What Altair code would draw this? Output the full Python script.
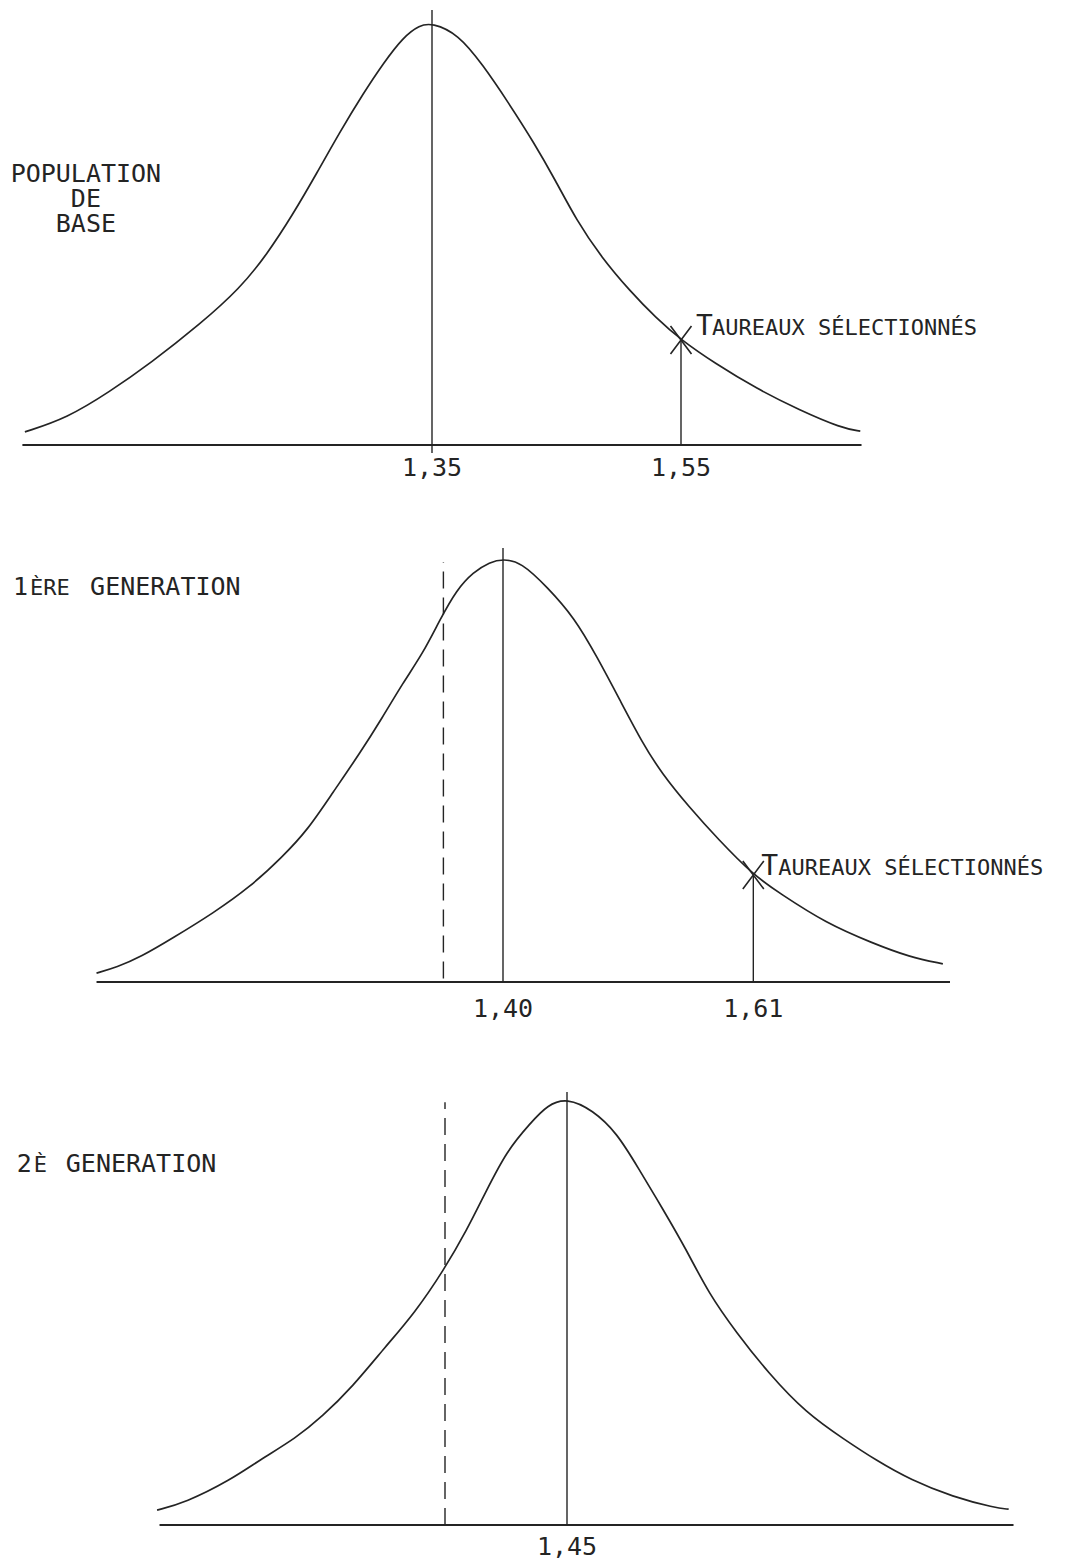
import altair as alt
import pandas as pd

INK = "#242424"
MONO = "DejaVu Sans Mono"

# ---------------- values ----------------
# Population de base
base_t = [1.023, 1.057, 1.091, 1.124, 1.164, 1.196, 1.217, 1.238, 1.258, 1.276,
          1.295, 1.311, 1.327, 1.340, 1.350, 1.371, 1.391, 1.411, 1.432, 1.449,
          1.466, 1.486, 1.509, 1.530, 1.550, 1.577, 1.611, 1.645, 1.679, 1.694]
base_f = [3.1, 6.4, 12.6, 19.4, 28.7, 37.2, 45.0, 54.5, 64.7, 74.2,
          83.4, 90.5, 96.7, 99.5, 100.0, 97.4, 90.0, 81.3, 71.6, 62.8,
          53.3, 44.5, 36.5, 30.1, 24.9, 19.4, 13.3, 8.3, 4.0, 3.3]
base_mean = 1.35
base_mean_span = [-1.9, 103.1]
base_cut = 1.55
base_cut_f = 24.9
base_axis = [1.021, 1.695]
base_ticks = [1.35, 1.55]
base_tick_labels = ["1,35", "1,55"]

# 1ère génération
gen1_t = [1.059, 1.076, 1.096, 1.123, 1.157, 1.188, 1.215, 1.236, 1.257, 1.280,
          1.299, 1.316, 1.333, 1.347, 1.361, 1.375, 1.389, 1.400, 1.415, 1.437,
          1.460, 1.479, 1.498, 1.517, 1.533, 1.556, 1.581, 1.610, 1.632, 1.671,
          1.710, 1.741, 1.769]
gen1_f = [2.1, 3.5, 5.9, 10.4, 16.3, 22.5, 29.6, 35.9, 44.7, 54.1,
          62.6, 70.7, 77.8, 85.6, 92.7, 96.9, 99.3, 100.0, 99.3, 93.4,
          86.1, 76.8, 66.7, 56.5, 49.4, 41.4, 33.6, 25.3, 21.0, 13.9,
          9.2, 5.9, 4.3]
gen1_mean = 1.40
gen1_mean_span = [0.0, 102.6]
gen1_prev = 1.35
gen1_prev_span = [0.8, 99.3]
gen1_cut = 1.61
gen1_cut_f = 25.3
gen1_axis = [1.059, 1.775]
gen1_ticks = [1.40, 1.61]
gen1_tick_labels = ["1,40", "1,61"]

# 2è génération
gen2_t = [1.114, 1.137, 1.174, 1.198, 1.228, 1.249, 1.274, 1.301, 1.325, 1.349,
          1.368, 1.383, 1.401, 1.420, 1.434, 1.450, 1.471, 1.491, 1.508, 1.529,
          1.548, 1.566, 1.589, 1.615, 1.646, 1.678, 1.703, 1.732, 1.766, 1.801,
          1.812]
gen2_f = [3.5, 5.2, 10.5, 15.2, 20.4, 25.3, 32.3, 41.7, 49.6, 59.7,
          69.1, 77.8, 87.8, 94.1, 98.4, 100.0, 97.2, 91.8, 83.8, 73.8,
          64.4, 54.3, 45.0, 35.6, 26.2, 19.9, 15.2, 10.5, 6.6, 4.0,
          3.7]
gen2_mean = 1.45
gen2_mean_span = [0.0, 101.4]
gen2_prev = 1.35
gen2_prev_span = [0.0, 99.0]
gen2_axis = [1.116, 1.816]
gen2_ticks = [1.45]
gen2_tick_labels = ["1,45"]

# annotation anchors (data units)
base_title_pos = (1.072, 62.3)
gen1_title_pos = (0.989, 91.5)
gen2_title_pos = (0.999, 82.7)
tick_label_f = [-7.3, -8.3, -7.0]

# ---------------- layout (pixels) ----------------
PANEL_W = 1073
LEFT = 8
geoms = [
    dict(top=8, bottom=510, base_px=445, unit=4.22, a_t=1.35, a_px=432, slope=1245),
    dict(top=510, bottom=1045, base_px=982, unit=4.23, a_t=1.40, a_px=503, slope=1192),
    dict(top=1045, bottom=1557, base_px=1525, unit=4.27, a_t=1.45, a_px=567, slope=1220),
]

X_SHAPE = "M-0.75,-1L0.75,1M0.75,-1L-0.75,1"


def scales(g):
    xd = [g["a_t"] + (LEFT - g["a_px"]) / g["slope"],
          g["a_t"] + (LEFT + PANEL_W - g["a_px"]) / g["slope"]]
    yd = [-(g["bottom"] - g["base_px"]) / g["unit"],
          (g["base_px"] - g["top"]) / g["unit"]]
    xs = alt.Scale(domain=xd, nice=False, zero=False)
    ys = alt.Scale(domain=yd, nice=False, zero=False)
    return xs, ys


def build_panel(g, curve_t, curve_f, axis, mean, mean_span, ticks, tick_labels,
                tick_f, title_layers, prev=None, prev_span=None, cut=None, cut_f=None):
    xs, ys = scales(g)

    def X(f):
        return alt.X(f, type="quantitative", scale=xs, axis=None)

    def Y(f):
        return alt.Y(f, type="quantitative", scale=ys, axis=None)

    layers = []
    curve = pd.DataFrame({"t": curve_t, "f": curve_f})
    layers.append(alt.Chart(curve).mark_line(interpolate="basis", color=INK,
                                             strokeWidth=1.7)
                  .encode(x=X("t"), y=Y("f")))
    base = pd.DataFrame({"t": [axis[0]], "t2": [axis[1]], "f": [0.0]})
    layers.append(alt.Chart(base).mark_rule(color=INK, strokeWidth=2.2)
                  .encode(x=X("t"), x2="t2", y=Y("f")))
    m = pd.DataFrame({"t": [mean], "f": [mean_span[0]], "f2": [mean_span[1]]})
    layers.append(alt.Chart(m).mark_rule(color=INK, strokeWidth=1.4)
                  .encode(x=X("t"), y=Y("f"), y2="f2"))
    if prev is not None:
        p = pd.DataFrame({"t": [prev], "f": [prev_span[0]], "f2": [prev_span[1]]})
        layers.append(alt.Chart(p).mark_rule(color=INK, strokeWidth=1.4,
                                             strokeDash=[17, 9])
                      .encode(x=X("t"), y=Y("f"), y2="f2"))
    if cut is not None:
        c = pd.DataFrame({"t": [cut], "f": [0.0], "f2": [cut_f]})
        layers.append(alt.Chart(c).mark_rule(color=INK, strokeWidth=1.4)
                      .encode(x=X("t"), y=Y("f"), y2="f2"))
        layers.append(alt.Chart(c).mark_point(shape=X_SHAPE, size=784, filled=False,
                                              color=INK, strokeWidth=1.6, opacity=1)
                      .encode(x=X("t"), y=Y("f2")))
    tk = pd.DataFrame({"t": ticks, "f": [tick_f] * len(ticks), "label": tick_labels})
    layers.append(alt.Chart(tk).mark_text(font=MONO, fontSize=25, color=INK,
                                          align="center", baseline="alphabetic")
                  .encode(x=X("t"), y=Y("f"), text="label:N"))
    for (pos, text, size, dx, dy, align) in title_layers:
        d = pd.DataFrame({"t": [pos[0]], "f": [pos[1]], "label": [text]})
        layers.append(alt.Chart(d).mark_text(font=MONO, fontSize=size, color=INK,
                                             align=align, baseline="alphabetic",
                                             dx=dx, dy=dy, lineBreak="\n",
                                             lineHeight=25)
                      .encode(x=X("t"), y=Y("f"), text="label:N"))
    return alt.layer(*layers).properties(width=PANEL_W,
                                         height=g["bottom"] - g["top"])


p1 = build_panel(
    geoms[0], base_t, base_f, base_axis, base_mean, base_mean_span,
    base_ticks, base_tick_labels, tick_label_f[0],
    [
        (base_title_pos, "POPULATION\nDE\nBASE", 25, 0, 0, "center"),
        ((base_cut, base_cut_f), "T", 28, 15, -5, "left"),
        ((base_cut, base_cut_f), "AUREAUX SÉLECTIONNÉS", 22, 31, -5, "left"),
    ],
    cut=base_cut, cut_f=base_cut_f,
)

p2 = build_panel(
    geoms[1], gen1_t, gen1_f, gen1_axis, gen1_mean, gen1_mean_span,
    gen1_ticks, gen1_tick_labels, tick_label_f[1],
    [
        (gen1_title_pos, "1", 25, 0, 0, "left"),
        (gen1_title_pos, "ÈRE", 22, 17, 0, "left"),
        (gen1_title_pos, "GENERATION", 25, 77, 0, "left"),
        ((gen1_cut, gen1_cut_f), "T", 28, 8, 0, "left"),
        ((gen1_cut, gen1_cut_f), "AUREAUX SÉLECTIONNÉS", 22, 25, 0, "left"),
    ],
    prev=gen1_prev, prev_span=gen1_prev_span, cut=gen1_cut, cut_f=gen1_cut_f,
)

p3 = build_panel(
    geoms[2], gen2_t, gen2_f, gen2_axis, gen2_mean, gen2_mean_span,
    gen2_ticks, gen2_tick_labels, tick_label_f[2],
    [
        (gen2_title_pos, "2", 25, 0, 0, "left"),
        (gen2_title_pos, "È", 22, 17, 0, "left"),
        (gen2_title_pos, "GENERATION", 25, 49, 0, "left"),
    ],
    prev=gen2_prev, prev_span=gen2_prev_span,
)

chart = (
    alt.vconcat(p1, p2, p3, spacing=0)
    .resolve_scale(x="independent", y="independent")
    .properties(padding=0, background="white")
    .configure_view(stroke=None)
)

chart.save("out.html", embed_options={"renderer": "svg", "actions": False})
